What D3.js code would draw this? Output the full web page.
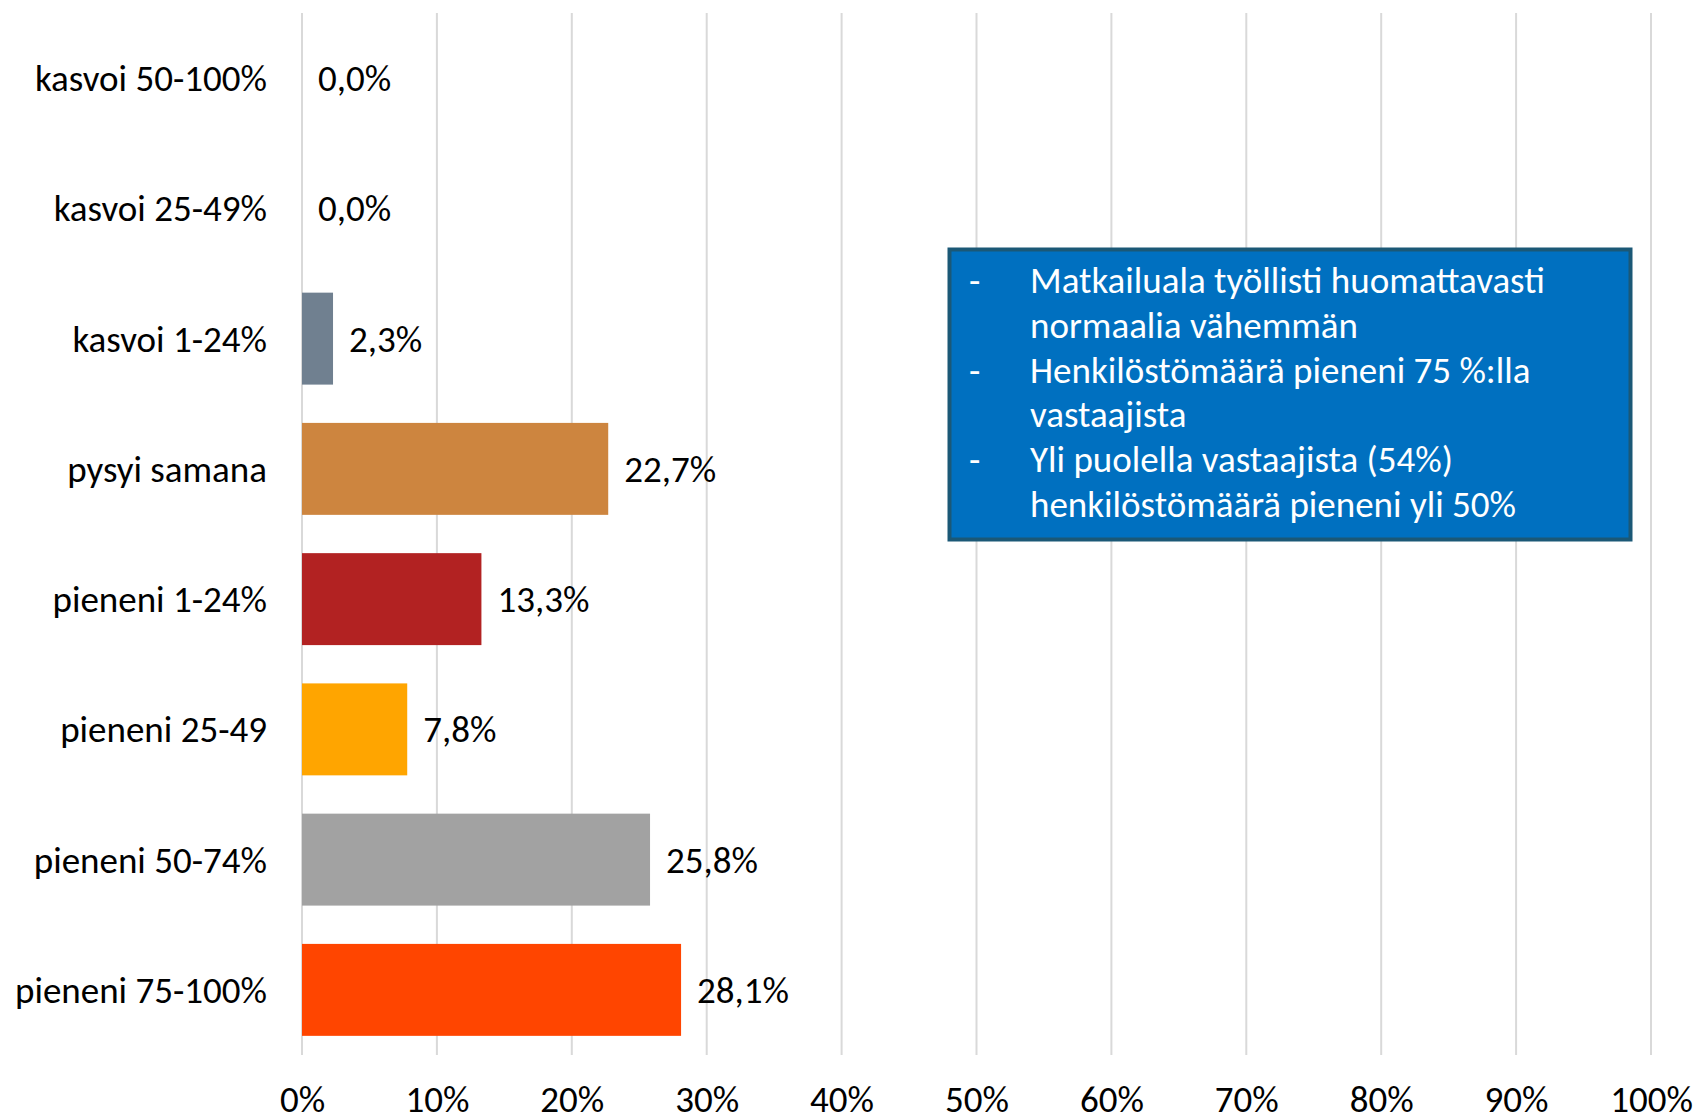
<!DOCTYPE html>
<html><head><meta charset="utf-8">
<script src="https://cdn.jsdelivr.net/npm/d3@7"></script>
<style>body{margin:0;background:#fff;} svg{display:block}</style>
</head><body><svg id="c" width="1697" height="1118"></svg>
<script>
const categories = ["kasvoi 50-100%","kasvoi 25-49%","kasvoi 1-24%","pysyi samana","pieneni 1-24%","pieneni 25-49","pieneni 50-74%","pieneni 75-100%"];
const values = [0.0, 0.0, 2.3, 22.7, 13.3, 7.8, 25.8, 28.1];
const valueLabels = ["0,0%","0,0%","2,3%","22,7%","13,3%","7,8%","25,8%","28,1%"];
const barColors = ["#708090","#708090","#708090","#CD853F","#B22222","#FFA500","#A2A2A2","#FF4500"];
const xTicks = [0,10,20,30,40,50,60,70,80,90,100];
const tickLabels = ["0%","10%","20%","30%","40%","50%","60%","70%","80%","90%","100%"];
const noteLines = [
  {bullet:"-", text:"Matkailuala työllisti huomattavasti"},
  {bullet:"",  text:"normaalia vähemmän"},
  {bullet:"-", text:"Henkilöstömäärä pieneni 75 %:lla"},
  {bullet:"",  text:"vastaajista"},
  {bullet:"-", text:"Yli puolella vastaajista (54%)"},
  {bullet:"",  text:"henkilöstömäärä pieneni yli 50%"}
];

const FONT = "Carlito, Lato, sans-serif";
const FS = 37;
const svg = d3.select("#c");
const m = {left:302, right:46, top:13, bottom:63};
const W = 1697, H = 1118;
const x = d3.scaleLinear().domain([0,100]).range([m.left, W-m.right]);
const y = d3.scaleBand().domain(categories).range([m.top, H-m.bottom]).paddingInner(0.294).paddingOuter(0.147);

// gridlines
svg.append("g").selectAll("line").data(xTicks).join("line")
  .attr("x1", d=>x(d)).attr("x2", d=>x(d))
  .attr("y1", m.top).attr("y2", H-m.bottom)
  .attr("stroke", "#D9D9D9").attr("stroke-width", 2);

// bars
svg.append("g").selectAll("rect").data(values).join("rect")
  .attr("x", x(0)).attr("y", (d,i)=>y(categories[i]))
  .attr("width", d=>x(d)-x(0)).attr("height", y.bandwidth())
  .attr("fill", (d,i)=>barColors[i]);

// value labels
svg.append("g").selectAll("text").data(values).join("text")
  .attr("x", d=>x(d)+16).attr("y", (d,i)=>y(categories[i])+y.bandwidth()/2)
  .attr("dy", "0.35em")
  .attr("font-family", FONT).attr("font-size", FS).attr("fill", "#000")
  .text((d,i)=>valueLabels[i]);

// y axis
const ya = svg.append("g").attr("transform", `translate(${m.left},0)`)
  .call(d3.axisLeft(y).tickSize(0).tickPadding(35));
ya.select(".domain").remove();
ya.selectAll("text").attr("font-family", FONT).attr("font-size", FS).attr("fill", "#000").attr("dy","0.35em");

// x axis
const xa = svg.append("g").attr("transform", `translate(0,${H-m.bottom})`)
  .call(d3.axisBottom(x).tickValues(xTicks).tickFormat((d,i)=>tickLabels[i]).tickSize(0).tickPadding(0));
xa.select(".domain").remove();
xa.selectAll("text").attr("font-family", FONT).attr("font-size", FS).attr("fill", "#000")
  .attr("y", 57).attr("dy", null);

// note box
const box = svg.append("g");
box.append("rect").attr("x", 949.5).attr("y", 249.5).attr("width", 681).attr("height", 290)
  .attr("fill", "#0070C0").attr("stroke", "#1B5876").attr("stroke-width", 4);
const lineY = d3.scaleLinear().domain([0,5]).range([293,517]);
box.selectAll("text.b").data(noteLines).join("text").attr("class","b")
  .attr("x", 969).attr("y", (d,i)=>lineY(i)).attr("font-family", FONT).attr("font-size", FS).attr("fill","#fff")
  .text(d=>d.bullet);
box.selectAll("text.t").data(noteLines).join("text").attr("class","t")
  .attr("x", 1030).attr("y", (d,i)=>lineY(i)).attr("font-family", FONT).attr("font-size", FS).attr("fill","#fff")
  .text(d=>d.text);
</script></body></html>
